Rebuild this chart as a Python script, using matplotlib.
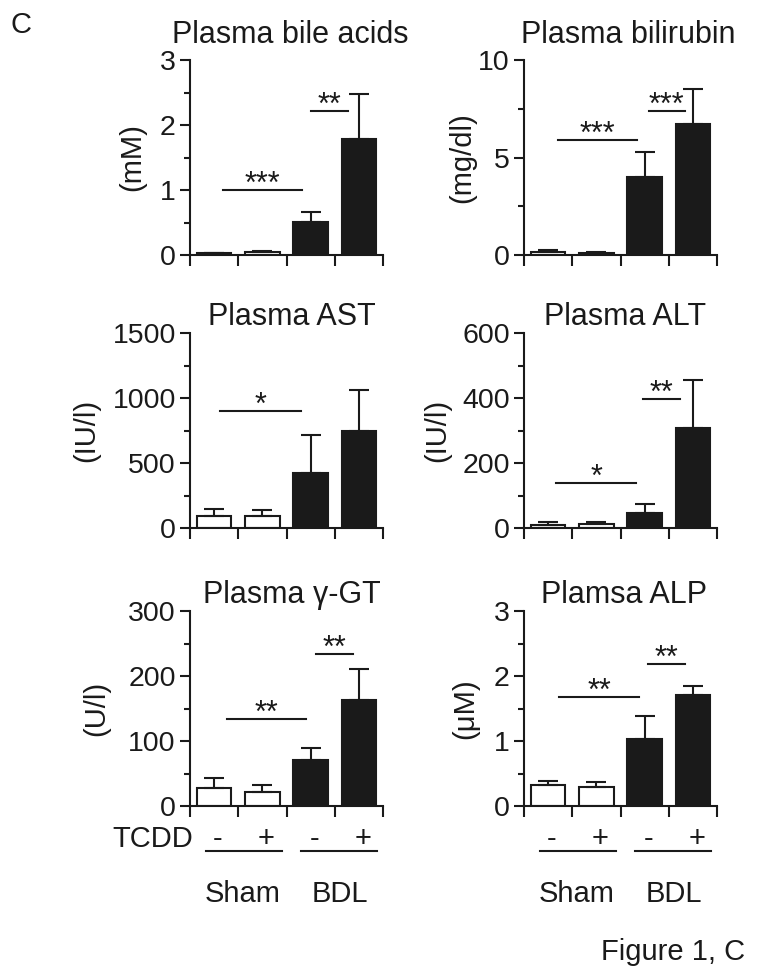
import matplotlib
matplotlib.use('Agg')
import matplotlib.pyplot as plt
import numpy as np
from matplotlib.ticker import MultipleLocator

plt.rcParams['font.family'] = ['Liberation Sans', 'DejaVu Sans']

# ---------------- data ----------------
titles = ['Plasma bile acids', 'Plasma bilirubin', 'Plasma AST',
          'Plasma ALT', 'Plasma \u03b3-GT', 'Plamsa ALP']
ylabels = ['(mM)', '(mg/dl)', '(IU/l)', '(IU/l)', '(U/l)', '(\u03bcM)']
ymax = [3, 10, 1500, 600, 300, 3]
ymajor = [1, 5, 500, 200, 100, 1]

tcdd_signs = ['-', '+', '-', '+']
groups = ['Sham', 'BDL']

bile_mean = [0.03, 0.05, 0.51, 1.78]
bile_err = [0.005, 0.01, 0.15, 0.70]
bili_mean = [0.13, 0.10, 4.0, 6.7]
bili_err = [0.14, 0.03, 1.3, 1.8]
ast_mean = [90, 90, 422, 744]
ast_err = [53, 45, 297, 320]
alt_mean = [10, 13, 45, 309]
alt_err = [7, 7, 28, 146]
ggt_mean = [28, 21, 71, 163]
ggt_err = [14.5, 12, 19, 48.5]
alp_mean = [0.32, 0.29, 1.03, 1.71]
alp_err = [0.07, 0.08, 0.36, 0.14]

means = [bile_mean, bili_mean, ast_mean, alt_mean, ggt_mean, alp_mean]
errs = [bile_err, bili_err, ast_err, alt_err, ggt_err, alp_err]

# significance: (x start, x end, y, label)
sig = [
    [(0.18, 1.82, 1.0, '***'), (2.0, 2.77, 2.22, '**')],
    [(0.20, 1.85, 5.9, '***'), (2.09, 2.83, 7.4, '***')],
    [(0.12, 1.80, 901, '*')],
    [(0.16, 1.83, 138, '*'), (1.97, 2.73, 396, '**')],
    [(0.26, 1.90, 133.6, '**'), (2.12, 2.87, 234, '**')],
    [(0.23, 1.88, 1.67, '**'), (2.07, 2.83, 2.19, '**')],
]

# ---------------- layout ----------------
W, H = 758, 977
fig = plt.figure(figsize=(W / 100, H / 100), dpi=100)
col_x = [190, 524]
ax_w = 193
row_top = [60, 333, 611]
ax_h = 195
title_pad = [12, 6, 6]
title_x = [0.52, 0.54, 0.53, 0.525, 0.53, 0.52]
label_pad = [10, 1.5, 8.5, 8, 13, 10.5]

ink = '#1a1a1a'
fs = 21
lw = 1.5
face = ['white', 'white', ink, ink]

axes = []
for i in range(6):
    r, c = divmod(i, 2)
    ax = fig.add_axes([col_x[c] / W, 1 - (row_top[r] + ax_h) / H, ax_w / W, ax_h / H])
    axes.append(ax)
    x = np.arange(4)
    ax.bar(x, means[i], width=0.72, color=face, edgecolor=ink, linewidth=lw, zorder=2)
    ax.errorbar(x, means[i], yerr=[np.zeros(4), errs[i]], fmt='none', ecolor=ink,
                elinewidth=lw, capsize=7, capthick=lw, zorder=3)
    ax.set_xlim(-0.5, 3.5)
    ax.set_ylim(0, ymax[i])
    for s in ['top', 'right']:
        ax.spines[s].set_visible(False)
    for s in ['left', 'bottom']:
        ax.spines[s].set_linewidth(lw)
        ax.spines[s].set_color(ink)
    ax.set_xticks([-0.5, 0.5, 1.5, 2.5, 3.5])
    ax.set_xticklabels([])
    ax.tick_params(axis='x', length=8, width=lw, color=ink)
    ax.yaxis.set_major_locator(MultipleLocator(ymajor[i]))
    ax.yaxis.set_minor_locator(MultipleLocator(ymajor[i] / 2))
    ax.tick_params(axis='y', which='major', length=7.2, width=lw, labelsize=20.5,
                   pad=3, color=ink, labelcolor=ink)
    ax.tick_params(axis='y', which='minor', length=4, width=lw, color=ink)
    ax.set_ylabel(ylabels[i], fontsize=fs, labelpad=label_pad[i], color=ink)
    ax.set_title(titles[i], fontsize=22, pad=title_pad[r], x=title_x[i], color=ink)
    for (x1, x2, y, lab) in sig[i]:
        ax.plot([x1, x2], [y, y], color=ink, lw=lw, clip_on=False)
        ax.annotate(lab, xy=((x1 + x2) / 2, y), xytext=(0, -2), textcoords='offset points',
                    ha='center', va='baseline', fontsize=22, color=ink)

# group annotations under bottom row
for k, ax in enumerate(axes[4:]):
    tr = ax.get_xaxis_transform()
    for j, sgn in enumerate(tcdd_signs):
        ax.text(j + 0.08, -0.209, sgn, transform=tr, ha='center', va='baseline',
                fontsize=fs, color=ink)
    ax.plot([-0.17, 1.40], [-0.233, -0.233], transform=tr, color=ink, lw=lw, clip_on=False)
    ax.plot([1.80, 3.37], [-0.233, -0.233], transform=tr, color=ink, lw=lw, clip_on=False)
    ax.text(0.60, -0.492, groups[0], transform=tr, ha='center', va='baseline',
            fontsize=fs, color=ink)
    ax.text(2.60, -0.492, groups[1], transform=tr, ha='center', va='baseline',
            fontsize=fs, color=ink)
    if k == 0:
        ax.text(-0.44, -0.209, 'TCDD', transform=tr, ha='right', va='baseline',
                fontsize=fs, color=ink)

fig.text(10 / W, 1 - 33 / H, 'C', fontsize=fs, color=ink, va='baseline', ha='left')
fig.text(745 / W, 1 - 960 / H, 'Figure 1, C', fontsize=fs, color=ink, va='baseline', ha='right')

fig.savefig('out.png', dpi=100, facecolor='white')
